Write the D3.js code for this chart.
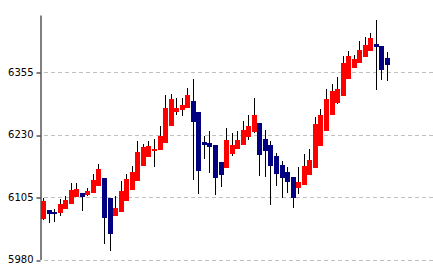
<!DOCTYPE html>
<html lang="en">
<head>
  <meta charset="UTF-8">
  <title>Candlestick</title>
  <style>
    html, body {
      margin: 0;
      background-color: #ffffff;
    }
    svg {
      display: block;
    }
    .tick text {
      font-family: "DejaVu Sans", sans-serif;
      font-size: 10px;
      fill: #000000;
    }
  </style>
</head>
<body>
  <div class="chart"></div>

  <script src="https://cdnjs.cloudflare.com/ajax/libs/d3/7.8.5/d3.min.js"></script>
  <script>
    // values, one entry per session
    const opens = [
      6061, 6079, 6076, 6073, 6081, 6091, 6105, 6113, 6109, 6113,
      6127, 6143, 6103, 6067, 6075, 6097, 6119, 6137, 6168, 6186,
      6198, 6200, 6214, 6248, 6276, 6280, 6284, 6298, 6276, 6216,
      6214, 6210, 6176, 6164, 6192, 6202, 6210, 6226, 6236, 6254,
      6222, 6210, 6188, 6170, 6156, 6145, 6123, 6129, 6150, 6164,
      6208, 6238, 6270, 6294, 6308, 6342, 6364, 6374, 6386, 6398,
      6412, 6408, 6384
    ];
    const highs = [
      6103, 6079, 6081, 6101, 6107, 6133, 6133, 6113, 6123, 6152,
      6172, 6143, 6103, 6107, 6137, 6152, 6168, 6218, 6212, 6218,
      6222, 6248, 6310, 6312, 6304, 6304, 6324, 6342, 6276, 6228,
      6238, 6210, 6176, 6244, 6234, 6238, 6258, 6270, 6304, 6254,
      6240, 6218, 6194, 6178, 6166, 6145, 6166, 6192, 6202, 6266,
      6282, 6322, 6332, 6346, 6388, 6398, 6390, 6418, 6426, 6434,
      6460, 6408, 6396
    ];
    const lows = [
      6060, 6053, 6055, 6067, 6081, 6091, 6105, 6077, 6107, 6113,
      6127, 6011, 5997, 6067, 6075, 6097, 6119, 6137, 6168, 6186,
      6166, 6200, 6214, 6248, 6270, 6268, 6284, 6139, 6111, 6182,
      6154, 6109, 6125, 6164, 6188, 6202, 6210, 6220, 6234, 6148,
      6145, 6089, 6127, 6103, 6113, 6083, 6111, 6129, 6150, 6164,
      6208, 6238, 6270, 6292, 6308, 6342, 6364, 6374, 6386, 6398,
      6320, 6339, 6337
    ];
    const closes = [
      6097, 6071, 6075, 6091, 6099, 6119, 6121, 6105, 6117, 6139,
      6161, 6063, 6031, 6083, 6117, 6141, 6156, 6196, 6206, 6208,
      6202, 6228, 6284, 6302, 6284, 6290, 6310, 6256, 6158, 6210,
      6206, 6143, 6150, 6220, 6210, 6220, 6240, 6248, 6270, 6190,
      6198, 6168, 6152, 6143, 6135, 6103, 6135, 6168, 6180, 6252,
      6270, 6302, 6318, 6322, 6374, 6388, 6382, 6400, 6410, 6424,
      6406, 6360, 6370
    ];
    const tickValues = [5980, 6105, 6230, 6355];

    const width = 433;
    const height = 273;
    const axisX = 40.5;
    const upColor = '#ff0000';
    const downColor = '#000080';
    const bodyWidth = 4;

    const candles = opens.map((o, i) => ({
      i: i,
      open: o,
      high: highs[i],
      low: lows[i],
      close: closes[i]
    }));

    const x = d3.scalePoint()
      .domain(candles.map(d => d.i))
      .range([43, 387]);

    const y = d3.scaleLinear()
      .domain([5980, 6470])
      .range([259.5, 15]);

    const svg = d3.select('.chart').append('svg')
      .attr('width', width)
      .attr('height', height);

    // dashed grid
    svg.append('g')
      .selectAll('line')
      .data(tickValues)
      .join('line')
      .attr('x1', 44)
      .attr('x2', width)
      .attr('y1', d => Math.round(y(d)) + 0.5)
      .attr('y2', d => Math.round(y(d)) + 0.5)
      .attr('stroke', '#c0c0c0')
      .attr('stroke-width', 1)
      .attr('stroke-dasharray', '4,3');

    // left axis
    const axis = svg.append('g')
      .attr('transform', `translate(${axisX},0)`)
      .call(d3.axisLeft(y)
        .tickValues(tickValues)
        .tickFormat(d3.format('d'))
        .tickSize(4)
        .tickSizeOuter(0)
        .tickPadding(3));
    axis.select('.domain').attr('stroke', '#000000');
    axis.selectAll('.tick line')
      .attr('stroke', '#000000')
      .attr('transform', d => `translate(0,${Math.round(y(d)) + 0.5 - y(d)})`);

    const candle = svg.append('g')
      .attr('shape-rendering', 'crispEdges')
      .selectAll('g')
      .data(candles)
      .join('g');

    const bodyLeft = d => Math.round(x(d.i) - bodyWidth / 2);

    // wicks
    candle.append('line')
      .attr('x1', d => bodyLeft(d) + 2.5)
      .attr('x2', d => bodyLeft(d) + 2.5)
      .attr('y1', d => Math.round(y(d.high)))
      .attr('y2', d => Math.round(y(d.low)))
      .attr('stroke', '#000000')
      .attr('stroke-width', 1);

    // bodies
    candle.append('rect')
      .attr('x', d => bodyLeft(d))
      .attr('width', bodyWidth + 0.5)
      .attr('y', d => Math.round(y(Math.max(d.open, d.close))))
      .attr('height', d => Math.max(2, Math.round(Math.abs(y(d.open) - y(d.close)))))
      .attr('fill', d => d.close >= d.open ? upColor : downColor);
  </script>
</body>
</html>
